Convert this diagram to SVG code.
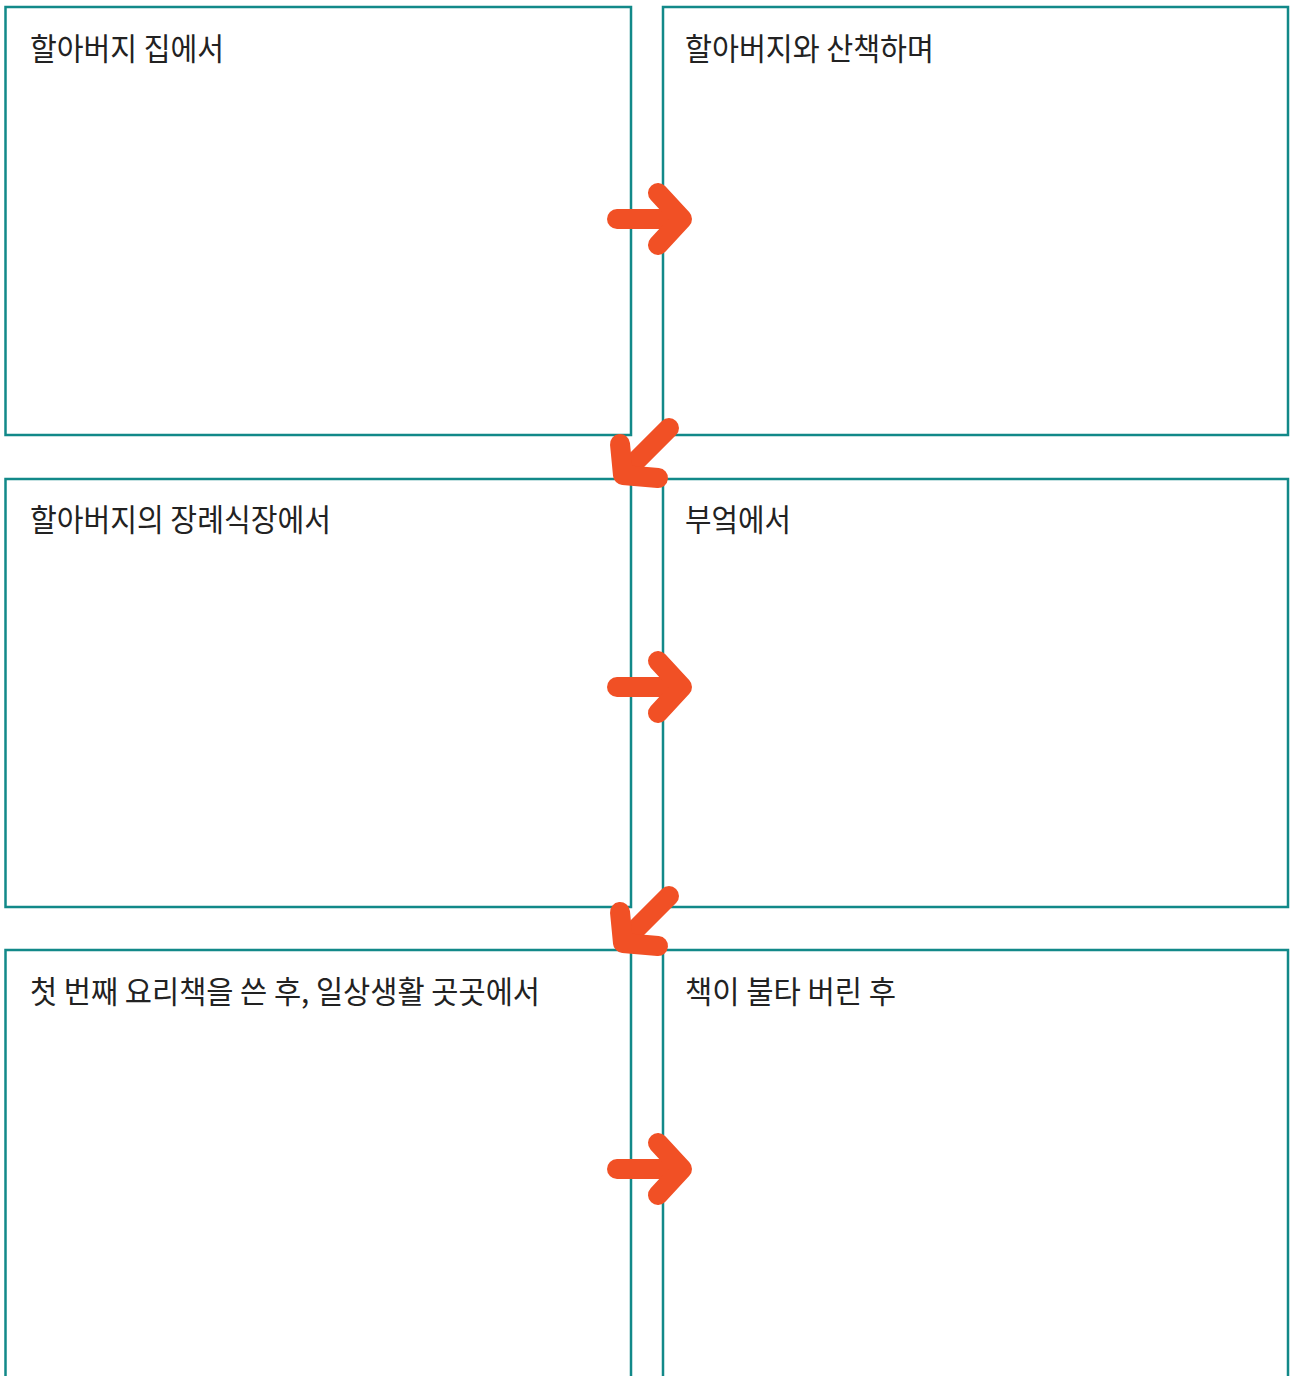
<svg xmlns="http://www.w3.org/2000/svg" width="1290" height="1376" viewBox="0 0 1290 1376">
<style>
.box{fill:#fff;stroke:#128989;stroke-width:2.5}
.t{font-family:"Noto Sans CJK KR","Noto Sans",sans-serif;font-size:31px;fill:#222;font-weight:400}
.a{fill:none;stroke:#f15025;stroke-width:20;stroke-linecap:round;stroke-linejoin:round}
</style>
<rect width="1290" height="1376" fill="#fff"/>
<g id="n1"><rect class="box" x="5.5" y="7" width="625.5" height="428"/><text class="t" x="30" y="60" textLength="194" lengthAdjust="spacingAndGlyphs">할아버지 집에서</text></g>
<g id="n2"><rect class="box" x="663" y="7" width="625" height="428"/><text class="t" x="685" y="60" textLength="249" lengthAdjust="spacingAndGlyphs">할아버지와 산책하며</text></g>
<g id="n3"><rect class="box" x="5.5" y="479" width="625.5" height="428"/><text class="t" x="30" y="531" textLength="301" lengthAdjust="spacingAndGlyphs">할아버지의 장례식장에서</text></g>
<g id="n4"><rect class="box" x="663" y="479" width="625" height="428"/><text class="t" x="685" y="531" textLength="106" lengthAdjust="spacingAndGlyphs">부엌에서</text></g>
<g id="n5"><rect class="box" x="5.5" y="950" width="625.5" height="440"/><text class="t" x="30" y="1003" textLength="510" lengthAdjust="spacingAndGlyphs">첫 번째 요리책을 쓴 후, 일상생활 곳곳에서</text></g>
<g id="n6"><rect class="box" x="663" y="950" width="625" height="440"/><text class="t" x="685" y="1003" textLength="211" lengthAdjust="spacingAndGlyphs">책이 불타 버린 후</text></g>
<g id="connectors">
<g id="c1"><path class="a" d="M617 219H676"/><path class="a" d="M658 193L682 219L658 245" stroke-linejoin="miter"/></g>
<g id="c2"><path class="a" d="M669 428L630 467"/><path class="a" d="M620 444L623 475L658 478" stroke-linejoin="miter"/></g>
<g id="c3"><path class="a" d="M617 687H676"/><path class="a" d="M658 661L682 687L658 713" stroke-linejoin="miter"/></g>
<g id="c4"><path class="a" d="M669 896L630 935"/><path class="a" d="M620 912L623 943L658 946" stroke-linejoin="miter"/></g>
<g id="c5"><path class="a" d="M617 1169H676"/><path class="a" d="M658 1143L682 1169L658 1195" stroke-linejoin="miter"/></g>
</g>
</svg>
